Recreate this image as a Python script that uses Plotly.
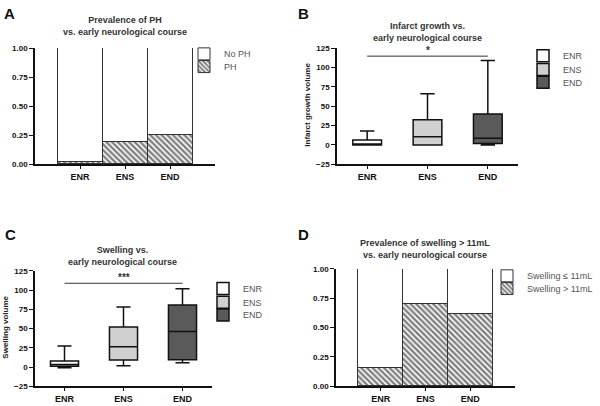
import plotly.graph_objects as go

# ---------------- data ----------------
categories = ["ENR", "ENS", "END"]

# Panel A: prevalence of PH
ph_prev = [0.02, 0.195, 0.25]
no_ph_prev = [round(1 - v, 3) for v in ph_prev]

# Panel B: infarct growth volume (box stats)
growth_min = [0, 0, 0]
growth_q1 = [0, 0, 2]
growth_med = [0, 10.5, 8.8]
growth_q3 = [6.5, 32.5, 40]
growth_max = [18, 66, 109]
growth_sig = {"from": "ENR", "to": "END", "y": 114.5, "label": "*"}

# Panel C: swelling volume (box stats)
swell_min = [-1, 1.6, 5.8]
swell_q1 = [1, 9.2, 9.6]
swell_med = [3.5, 26.5, 46.4]
swell_q3 = [8, 52, 80.6]
swell_max = [27.5, 78, 102]
swell_sig = {"from": "ENR", "to": "END", "y": 109, "label": "***"}

# Panel D: prevalence of swelling > 11 mL
swell_prev = [0.16, 0.70, 0.62]
no_swell_prev = [round(1 - v, 3) for v in swell_prev]

box_colors = {"ENR": "#ffffff", "ENS": "#d0d0d0", "END": "#5a5a5a"}

# ---------------- figure ----------------
W, H = 600, 406
FONT = "Liberation Sans"


def px_x(p):
    return p / W


def px_y(p):
    return 1 - p / H


fig = go.Figure()

hatch = dict(shape="\\", size=4, solidity=0.6, fgcolor="#000000", bgcolor="white")
bar_line = dict(color="#333333", width=1)

# Panel A bars (legend rows: No PH, PH)
fig.add_trace(go.Bar(x=categories, y=ph_prev, name="PH", xaxis="x", yaxis="y",
                     marker=dict(color="white", pattern=hatch, line=bar_line),
                     legend="legend2"))
fig.add_trace(go.Bar(x=categories, y=no_ph_prev, name="No PH", xaxis="x", yaxis="y",
                     marker=dict(color="white", line=bar_line),
                     legend="legend"))

# Panel D bars
fig.add_trace(go.Bar(x=categories, y=swell_prev, name="Swelling > 11mL", xaxis="x4", yaxis="y4",
                     marker=dict(color="white", pattern=hatch, line=bar_line),
                     legend="legend10"))
fig.add_trace(go.Bar(x=categories, y=no_swell_prev, name="Swelling ≤ 11mL", xaxis="x4", yaxis="y4",
                     marker=dict(color="white", line=bar_line),
                     legend="legend9"))

# Panel B and C boxes
for i, c in enumerate(categories):
    fig.add_trace(go.Box(x=[c], q1=[growth_q1[i]], median=[growth_med[i]], q3=[growth_q3[i]],
                         lowerfence=[growth_min[i]], upperfence=[growth_max[i]],
                         name=c, xaxis="x2", yaxis="y2", fillcolor=box_colors[c],
                         line=dict(color="#111111", width=1.5), whiskerwidth=0.5,
                         legend=f"legend{3 + i}", hoverinfo="skip"))
    fig.add_trace(go.Box(x=[c], q1=[swell_q1[i]], median=[swell_med[i]], q3=[swell_q3[i]],
                         lowerfence=[swell_min[i]], upperfence=[swell_max[i]],
                         name=c, xaxis="x3", yaxis="y3", fillcolor=box_colors[c],
                         line=dict(color="#111111", width=1.5), whiskerwidth=0.5,
                         legend=f"legend{6 + i}", hoverinfo="skip"))

tickfont = dict(family=FONT, size=8, color="#111111", weight="bold")
xtickfont = dict(family=FONT, size=9, color="#111111", weight="bold")

ax_common = dict(showline=True, linecolor="#111111", linewidth=1.5, ticks="outside",
                 tickcolor="#111111", tickwidth=1.2, showgrid=False,
                 zeroline=False, fixedrange=True)

domains = {
    "A": ([px_x(35), px_x(215)], [px_y(164), px_y(45)]),
    "B": ([px_x(337), px_x(518)], [px_y(164), px_y(45)]),
    "C": ([px_x(35), px_x(212)], [px_y(391), px_y(273)]),
    "D": ([px_x(336), px_x(515)], [px_y(391), px_y(271)]),
}

fig.update_layout(
    width=W, height=H, margin=dict(l=0, r=0, t=0, b=0),
    paper_bgcolor="white", plot_bgcolor="white", showlegend=True,
    barmode="stack", bargap=0, boxgap=0.32, boxmode="overlay",
    font=dict(family=FONT, color="#222222"),
    xaxis=dict(domain=domains["A"][0], anchor="y", range=[-1, 3], type="category",
               tickfont=xtickfont, ticklen=3, **ax_common),
    yaxis=dict(domain=domains["A"][1], anchor="x", range=[0, 1], tickvals=[0, 0.25, 0.5, 0.75, 1],
               tickformat=".2f", tickfont=tickfont, ticklen=4, **ax_common),
    xaxis2=dict(domain=domains["B"][0], anchor="y2", range=[-0.5, 2.5], type="category",
                tickfont=xtickfont, ticklen=3, **ax_common),
    yaxis2=dict(domain=domains["B"][1], anchor="x2", range=[-25, 125],
                tickvals=[-25, 0, 25, 50, 75, 100, 125], tickfont=tickfont, ticklen=4, **ax_common),
    xaxis3=dict(domain=domains["C"][0], anchor="y3", range=[-0.5, 2.5], type="category",
                tickfont=xtickfont, ticklen=3, **ax_common),
    yaxis3=dict(domain=domains["C"][1], anchor="x3", range=[-25, 125],
                tickvals=[-25, 0, 25, 50, 75, 100, 125], tickfont=tickfont, ticklen=4, **ax_common),
    xaxis4=dict(domain=domains["D"][0], anchor="y4", range=[-1, 3], type="category",
                tickfont=xtickfont, ticklen=3, **ax_common),
    yaxis4=dict(domain=domains["D"][1], anchor="x4", range=[0, 1], tickvals=[0, 0.25, 0.5, 0.75, 1],
                tickformat=".2f", tickfont=tickfont, ticklen=4, **ax_common),
)

# one legend per entry so rows can sit as close as in the reference
leg_font = dict(family=FONT, size=9, color="#555555")
leg_common = dict(font=leg_font, bgcolor="rgba(0,0,0,0)", borderwidth=0,
                  xanchor="left", yanchor="middle", itemwidth=30, visible=True)
legend_pos = {
    "legend": (184, 51), "legend2": (184, 64),
    "legend3": (523, 53), "legend4": (523, 67), "legend5": (523, 80),
    "legend6": (203, 291), "legend7": (203, 305), "legend8": (203, 318),
    "legend9": (487, 278), "legend10": (487, 291),
}
fig.update_layout({name: dict(x=px_x(lx), y=px_y(ly), **leg_common)
                   for name, (lx, ly) in legend_pos.items()})

# titles
title_font = dict(family=FONT, size=9, color="#333333", weight="bold")
titles = [
    ("Prevalence of PH<br>vs. early neurological course", 125, 23),
    ("Infarct growth vs.<br>early neurological course", 427, 29),
    ("Swelling vs.<br>early neurological course", 123, 258),
    ("Prevalence of swelling > 11mL<br>vs. early neurological course", 425, 251),
]
for text, cx, cy in titles:
    fig.add_annotation(text=text, x=px_x(cx), y=px_y(cy), xref="paper", yref="paper",
                       showarrow=False, font=title_font, xanchor="center", yanchor="middle")

# panel letters
letter_font = dict(family=FONT, size=15, color="#111111", weight="bold")
for letter, lx, ly in [("A", 2, 10), ("B", 296, 10), ("C", 3, 236), ("D", 296, 236)]:
    fig.add_annotation(text=letter, x=px_x(lx), y=px_y(ly), xref="paper", yref="paper",
                       showarrow=False, font=letter_font, xanchor="left", yanchor="middle")

# y axis titles
ytitle_font = dict(family=FONT, size=8, color="#222222", weight="bold")
fig.add_annotation(text="Infarct growth volume", x=px_x(308), y=px_y(103), xref="paper", yref="paper",
                   showarrow=False, textangle=-90, font=ytitle_font, xanchor="center", yanchor="middle")
fig.add_annotation(text="Swelling volume", x=px_x(6), y=px_y(331), xref="paper", yref="paper",
                   showarrow=False, textangle=-90, font=ytitle_font, xanchor="center", yanchor="middle")

# significance brackets
for sig, xa, ya in [(growth_sig, "x2", "y2"), (swell_sig, "x3", "y3")]:
    i0, i1 = categories.index(sig["from"]), categories.index(sig["to"])
    fig.add_shape(type="line", xref=xa, yref=ya, x0=i0, x1=i1, y0=sig["y"], y1=sig["y"],
                  line=dict(color="#333333", width=1))
    fig.add_annotation(text=sig["label"], xref=xa, yref=ya, x=(i0 + i1) / 2, y=sig["y"],
                       showarrow=False, yanchor="bottom", yshift=-2,
                       font=dict(family=FONT, size=10, color="#333333", weight="bold"))

fig.write_html("out.html", config={"displayModeBar": False},
               post_script="document.body.style.margin='0';")
